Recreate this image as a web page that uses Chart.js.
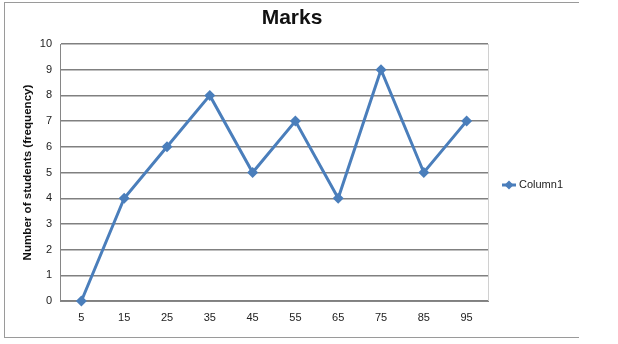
<!DOCTYPE html>
<html lang="en">
<head>
    <meta charset="UTF-8">
    <title>Marks</title>
    <script src="https://cdn.jsdelivr.net/npm/chart.js"></script>
    <style>
        html, body {
            margin: 0;
            padding: 0;
            background: #fff;
        }

        .wrap {
            position: relative;
            width: 618px;
            height: 344px;
        }

        /* Excel-style outer frame (right edge cut off) */
        .frame {
            position: absolute;
            left: 4px;
            top: 2px;
            width: 574px;
            height: 334px;
            border: 1px solid #9a9a9a;
            border-right: none;
            pointer-events: none;
        }
    </style>
</head>
<body>
    <div class="wrap">
        <canvas id="lineChart" width="618" height="344"></canvas>
        <div class="frame"></div>
    </div>

    <script>
        var categories = ['5', '15', '25', '35', '45', '55', '65', '75', '85', '95'];
        var column1 = [0, 4, 6, 8, 5, 7, 4, 9, 5, 7];
        var seriesName = 'Column1';
        var chartTitle = 'Marks';
        var yTicks = [0, 1, 2, 3, 4, 5, 6, 7, 8, 9, 10];

        var blue = '#4a7ebb';
        var font = "'Liberation Sans', Arial, sans-serif";

        // title centred on the whole frame, right border of plot, legend with line + diamond
        var excelBits = {
            id: 'excelBits',
            afterDraw: function (chart) {
                var ctx = chart.ctx;
                var a = chart.chartArea;
                ctx.save();

                ctx.fillStyle = '#111';
                ctx.font = 'bold 21px ' + font;
                ctx.textAlign = 'center';
                ctx.textBaseline = 'middle';
                ctx.fillText(chartTitle, 292, 18);

                ctx.strokeStyle = '#d0d0d0';
                ctx.lineWidth = 1;
                ctx.beginPath();
                ctx.moveTo(a.right + 0.5, a.top);
                ctx.lineTo(a.right + 0.5, a.bottom);
                ctx.stroke();

                var lx = 502, ly = 185;
                ctx.strokeStyle = blue;
                ctx.lineWidth = 3;
                ctx.beginPath();
                ctx.moveTo(lx, ly);
                ctx.lineTo(lx + 14, ly);
                ctx.stroke();
                ctx.fillStyle = blue;
                ctx.beginPath();
                ctx.moveTo(lx + 7, ly - 4.5);
                ctx.lineTo(lx + 11.5, ly);
                ctx.lineTo(lx + 7, ly + 4.5);
                ctx.lineTo(lx + 2.5, ly);
                ctx.closePath();
                ctx.fill();

                ctx.fillStyle = '#222';
                ctx.font = '11px ' + font;
                ctx.textAlign = 'left';
                ctx.fillText(chart.data.datasets[0].label, lx + 17, ly);
                ctx.restore();
            }
        };

        var config = {
            type: 'line',
            data: {
                labels: categories,
                datasets: [{
                    label: seriesName,
                    data: column1,
                    borderColor: blue,
                    backgroundColor: blue,
                    borderWidth: 3,
                    tension: 0,
                    clip: false,
                    pointStyle: 'rectRot',
                    pointRadius: 5.5,
                    pointBorderWidth: 0,
                    pointBackgroundColor: blue
                }]
            },
            options: {
                responsive: false,
                animation: false,
                layout: {
                    padding: { left: 0, right: 130, top: 44, bottom: 0 }
                },
                plugins: {
                    legend: { display: false },
                    tooltip: { enabled: false },
                    title: { display: false }
                },
                scales: {
                    x: {
                        offset: true,
                        grid: { display: false, drawTicks: false },
                        border: { display: true, color: '#868686', width: 1 },
                        ticks: {
                            color: '#222',
                            padding: 10,
                            font: { family: font, size: 11 }
                        },
                        afterFit: function (scale) { scale.height = 43; }
                    },
                    y: {
                        min: 0,
                        max: 10,
                        afterBuildTicks: function (scale) {
                            scale.ticks = yTicks.map(function (v) { return { value: v }; });
                        },
                        grid: { color: '#808080', lineWidth: 1.4, drawTicks: false },
                        border: { display: true, color: '#868686', width: 1 },
                        ticks: {
                            color: '#222',
                            padding: 8,
                            font: { family: font, size: 11 }
                        },
                        title: {
                            display: true,
                            text: 'Number of students (frequency)',
                            color: '#111',
                            font: { family: font, size: 11.6, weight: 'bold' },
                            padding: { top: 21, bottom: 0 }
                        },
                        afterFit: function (scale) { scale.width = 60; }
                    }
                }
            },
            plugins: [excelBits]
        };

        var lineChart = new Chart(document.getElementById('lineChart').getContext('2d'), config);
    </script>
</body>
</html>
